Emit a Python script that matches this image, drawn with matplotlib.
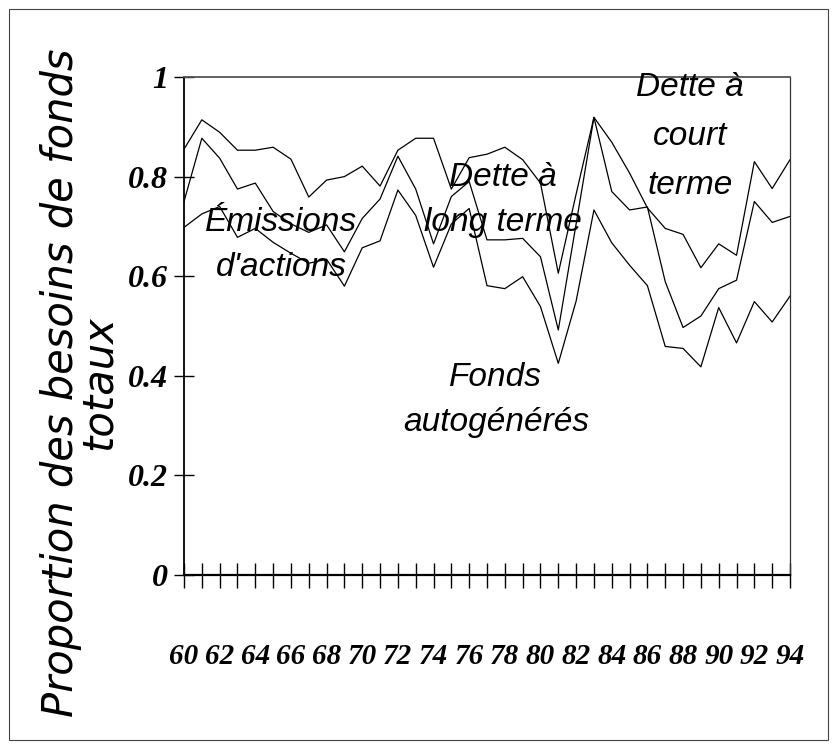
import numpy as np
from matplotlib import pyplot as plt
from matplotlib.patches import Rectangle

# years 1960..1994
years = list(range(60, 95))

# cumulative proportions (bottom -> top)
fondsAutogeneres = [0.698, 0.725, 0.740, 0.678, 0.696, 0.668, 0.646, 0.626, 0.634, 0.580,
                    0.657, 0.671, 0.773, 0.722, 0.618, 0.705, 0.736, 0.581, 0.575, 0.599,
                    0.539, 0.425, 0.550, 0.733, 0.667, 0.622, 0.581, 0.459, 0.455, 0.418,
                    0.537, 0.466, 0.549, 0.508, 0.560]
plusLongTerme = [0.750, 0.877, 0.837, 0.775, 0.787, 0.730, 0.705, 0.688, 0.703, 0.649,
                 0.716, 0.755, 0.841, 0.775, 0.665, 0.760, 0.790, 0.673, 0.673, 0.676,
                 0.639, 0.492, 0.705, 0.919, 0.770, 0.733, 0.739, 0.589, 0.497, 0.520,
                 0.575, 0.592, 0.750, 0.708, 0.720]
plusCourtTerme = [0.855, 0.914, 0.889, 0.853, 0.853, 0.859, 0.835, 0.759, 0.793, 0.800,
                  0.821, 0.781, 0.853, 0.877, 0.877, 0.775, 0.838, 0.845, 0.859, 0.834,
                  0.787, 0.606, 0.765, 0.919, 0.869, 0.807, 0.737, 0.696, 0.684, 0.617,
                  0.665, 0.642, 0.830, 0.776, 0.834]

yTicks = [0, 0.2, 0.4, 0.6, 0.8, 1]
yTickLabels = ['0', '0.2', '0.4', '0.6', '0.8', '1']
xTickLabels = [str(y) if y % 2 == 0 else '' for y in years]

labelFont = ['Liberation Sans', 'DejaVu Sans']
tickFont = ['Liberation Serif', 'DejaVu Serif']

fig = plt.figure(figsize=(8.37, 7.48), dpi=100)
ax = fig.add_axes([184 / 837, 1 - 575 / 748, 606 / 837, 498 / 748])

ax.plot(years, fondsAutogeneres, color='black', lw=0.9)
ax.plot(years, plusLongTerme, color='black', lw=0.9)
ax.plot(years, plusCourtTerme, color='black', lw=0.9)

ax.set_xlim(60, 94)
ax.set_ylim(0, 1)

ax.set_xticks(years)
ax.set_xticklabels(xTickLabels, family=tickFont, style='italic', weight='bold', fontsize=21)
ax.set_yticks(yTicks)
ax.set_yticklabels(yTickLabels, family=tickFont, style='italic', weight='bold', fontsize=23)
ax.tick_params(axis='x', direction='inout', length=18, width=1, pad=40)
ax.tick_params(axis='y', direction='inout', length=15, width=1, pad=4)

ax.spines['left'].set_linewidth(1.3)
ax.spines['bottom'].set_linewidth(1.6)
ax.spines['top'].set_color('#555555')
ax.spines['top'].set_linewidth(1.3)
ax.spines['right'].set_color('#333333')
ax.spines['right'].set_linewidth(0.9)

# series labels inside the plot
ax.text(65.45, 0.663, "Émissions\nd'actions", family=labelFont, style='italic',
        fontsize=24, ha='center', va='center', linespacing=1.6)
ax.text(77.9, 0.753, "Dette à\nlong terme", family=labelFont, style='italic',
        fontsize=24, ha='center', va='center', linespacing=1.6)
ax.text(77.5, 0.351, "Fonds\nautogénérés", family=labelFont, style='italic',
        fontsize=24, ha='center', va='center', linespacing=1.6)
ax.text(88.4, 0.881, "Dette à\ncourt\nterme", family=labelFont, style='italic',
        fontsize=24, ha='center', va='center', linespacing=1.75, clip_on=False)

fig.text(80 / 837, 1 - 383 / 748, "Proportion des besoins de fonds\ntotaux",
         family='DejaVu Sans', style='italic', fontsize=30, rotation=90,
         ha='center', va='center', multialignment='center', linespacing=0.85)

# thin frame round the whole picture
fig.patches.append(Rectangle((9 / 837, 8 / 748), 819 / 837, 731 / 748, transform=fig.transFigure,
                             fill=False, edgecolor='#444444', lw=0.8))

fig.savefig('out.png', dpi=100)
